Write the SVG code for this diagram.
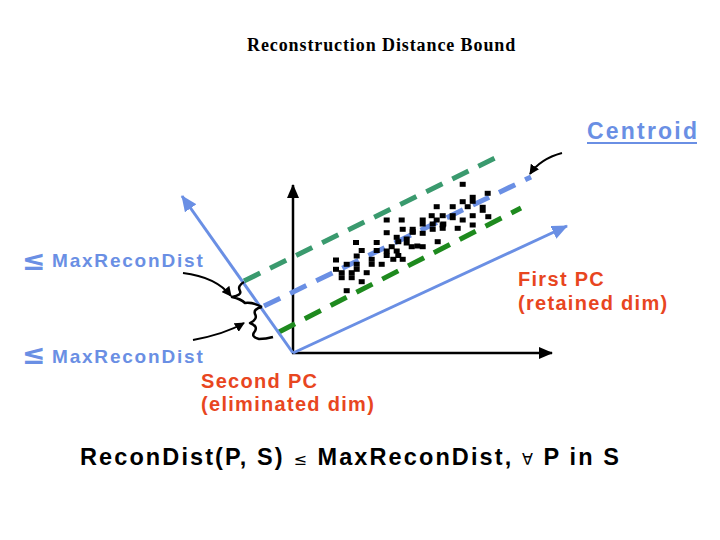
<svg xmlns="http://www.w3.org/2000/svg" width="720" height="540" viewBox="0 0 720 540">
<style>
.title{font-family:"Liberation Serif","Times New Roman",serif;font-weight:bold;font-size:18px;fill:#000;letter-spacing:0.9px}
.blue{font-family:"Liberation Sans",Arial,sans-serif;font-weight:bold;font-size:19px;fill:#6a8fe4;letter-spacing:1.8px}
.le{font-family:"DejaVu Sans",sans-serif;font-weight:bold;font-size:28px;fill:#6a8fe4}
.red{font-family:"Liberation Sans",Arial,sans-serif;font-weight:bold;font-size:20px;fill:#e8461f;letter-spacing:1.3px}
.cent{font-family:"Liberation Sans",Arial,sans-serif;font-weight:bold;font-size:23px;fill:#6a8fe4;letter-spacing:2.2px}
.eq{font-family:"Liberation Sans",Arial,sans-serif;font-weight:bold;font-size:23.5px;fill:#000;letter-spacing:2.1px}
.sym{font-family:"DejaVu Sans",sans-serif;font-size:16px;font-weight:normal}
.axis{stroke:#000;stroke-width:2.5;fill:none}
.pc{stroke:#6a8fe4;stroke-width:3;fill:none}
.dash{stroke-width:5;fill:none;stroke-dasharray:18 11}
.thin{stroke:#000;stroke-width:2;fill:none}
.brace{stroke:#000;stroke-width:2.5;fill:none;stroke-linejoin:round}
.pt{fill:#000}
</style>
<defs>
<marker id="ab" markerWidth="10" markerHeight="10" refX="9" refY="5" orient="auto" markerUnits="userSpaceOnUse"><path d="M0,0 L10,5 L0,10 z" fill="#000"/></marker>
<marker id="abig" markerWidth="14" markerHeight="12" refX="13" refY="6" orient="auto" markerUnits="userSpaceOnUse"><path d="M0,0 L14,6 L0,12 z" fill="#000"/></marker>
<marker id="ablue" markerWidth="16" markerHeight="14" refX="15" refY="7" orient="auto" markerUnits="userSpaceOnUse"><path d="M0,0 L16,7 L0,14 z" fill="#6a8fe4"/></marker>
</defs>
<rect width="720" height="540" fill="#fff"/>
<g id="title"><text class="title" x="247" y="51">Reconstruction Distance Bound</text></g>
<g id="connectors">
<line class="axis" x1="293" y1="353" x2="293" y2="185" marker-end="url(#abig)"/>
<line class="axis" x1="292" y1="353" x2="552" y2="353" marker-end="url(#abig)"/>
<line class="dash" stroke="#3a9a6e" x1="244" y1="281" x2="497" y2="157"/>
<line class="dash" stroke="#6a8fe4" x1="264" y1="306" x2="531" y2="177"/>
<line class="dash" stroke="#1e8a1e" x1="279" y1="332" x2="521" y2="208"/>
<line class="pc" x1="293" y1="353" x2="567" y2="226" marker-end="url(#ablue)"/>
<line class="pc" x1="293" y1="353" x2="182" y2="196" marker-end="url(#ablue)"/>
<path class="brace" d="M244,282 Q237,286 240,291 Q242,295 232,297 Q241,299 245,303 Q253,302 262,307"/>
<path class="brace" d="M262,307 Q253,309 255,314 Q258,319 250,323 Q258,326 255,331 Q250,337 259,339 Q266,339 273,337"/>
<path class="thin" d="M183,273 Q216,277 231,296" marker-end="url(#ab)"/>
<path class="thin" d="M193,340 Q225,334 244,323" marker-end="url(#ab)"/>
<path class="thin" d="M562,153 Q540,159 530,174" marker-end="url(#ab)"/>
</g>
<g id="points" class="pt">
<rect x="353" y="240" width="6" height="5"/><rect x="373.7" y="240" width="6" height="5"/><rect x="358.7" y="248" width="6" height="5"/><rect x="373.7" y="248" width="6" height="5"/><rect x="353.7" y="253.5" width="6" height="5"/><rect x="333" y="257.5" width="6" height="5"/><rect x="368.7" y="256.8" width="6" height="5"/><rect x="343.7" y="261.8" width="6" height="5"/><rect x="353.7" y="261.8" width="6" height="5"/><rect x="368.7" y="261.8" width="6" height="5"/><rect x="333" y="266.8" width="6" height="5"/><rect x="353.7" y="266.8" width="6" height="5"/><rect x="338.7" y="270.2" width="6" height="5"/><rect x="348.7" y="270.2" width="6" height="5"/><rect x="363.7" y="270.2" width="6" height="5"/><rect x="338.7" y="275.2" width="6" height="5"/><rect x="348.7" y="275.2" width="6" height="5"/><rect x="358.7" y="279.2" width="6" height="5"/><rect x="343.7" y="288.2" width="6" height="5"/>
<rect x="383.7" y="230.2" width="6" height="5"/><rect x="409.7" y="229.2" width="6" height="5"/><rect x="393.7" y="234.8" width="6" height="5"/><rect x="403.7" y="236.5" width="6" height="9"/><rect x="395.3" y="239.2" width="6" height="5"/><rect x="388.7" y="244.2" width="6" height="5"/><rect x="408.7" y="244.2" width="6" height="5"/><rect x="414.3" y="243.5" width="6" height="5"/><rect x="383.7" y="248.5" width="6" height="5"/><rect x="393.7" y="248.5" width="6" height="5"/><rect x="383.7" y="253" width="6" height="5"/><rect x="395.3" y="253" width="6" height="5"/><rect x="390.3" y="256.8" width="6" height="5"/><rect x="399.7" y="256.8" width="6" height="5"/><rect x="378.7" y="261.8" width="6" height="5"/><rect x="383.7" y="217.5" width="6" height="5"/><rect x="398.7" y="217.5" width="6" height="5"/><rect x="419.7" y="217.5" width="6" height="9"/><rect x="399.7" y="226.8" width="6" height="5"/><rect x="409.7" y="226.8" width="6" height="8"/><rect x="419.7" y="230.8" width="6" height="5"/><rect x="419.7" y="244.2" width="6" height="5"/><rect x="434.7" y="239.2" width="6" height="5"/><rect x="429.7" y="221.5" width="6" height="5"/><rect x="440.3" y="221.5" width="6" height="5"/><rect x="429.7" y="226.8" width="6" height="5"/>
<rect x="459.7" y="181.8" width="6" height="5"/><rect x="484.7" y="190.8" width="6" height="5"/><rect x="469.7" y="194.8" width="6" height="9"/><rect x="459.7" y="199.2" width="6" height="5"/><rect x="433.7" y="204.2" width="6" height="5"/><rect x="449.7" y="204.2" width="6" height="5"/><rect x="464.7" y="204.2" width="6" height="5"/><rect x="479.7" y="204.8" width="6" height="8"/><rect x="428.7" y="213.2" width="6" height="5"/><rect x="439.7" y="213.2" width="6" height="5"/><rect x="449.7" y="213.2" width="6" height="7"/><rect x="469.7" y="213.2" width="6" height="5"/><rect x="485.3" y="214.2" width="6" height="5"/><rect x="433.7" y="217.5" width="6" height="5"/><rect x="459.7" y="217.5" width="6" height="5"/><rect x="439.7" y="222.5" width="6" height="5"/><rect x="469.7" y="222.5" width="6" height="5"/><rect x="439.7" y="225.8" width="6" height="5"/><rect x="454.7" y="225.8" width="6" height="5"/>
</g>
<g id="label-max1"><text class="le" x="22" y="270">≤</text><text class="blue" x="52" y="267">MaxReconDist</text></g>
<g id="label-max2"><text class="le" x="22" y="364">≤</text><text class="blue" x="52" y="363">MaxReconDist</text></g>
<g id="label-centroid"><text class="cent" x="587" y="139">Centroid</text><line x1="587" y1="143" x2="697" y2="143" stroke="#6a8fe4" stroke-width="2"/></g>
<g id="label-first"><text class="red" x="518" y="286">First PC</text><text class="red" x="518" y="310">(retained dim)</text></g>
<g id="label-second"><text class="red" x="201" y="388">Second PC</text><text class="red" x="201" y="411">(eliminated dim)</text></g>
<g id="equation"><text class="eq" x="80" y="465">ReconDist(P, S) <tspan class="sym">≤</tspan> MaxReconDist, <tspan class="sym">∀</tspan> P in S</text></g>
</svg>
